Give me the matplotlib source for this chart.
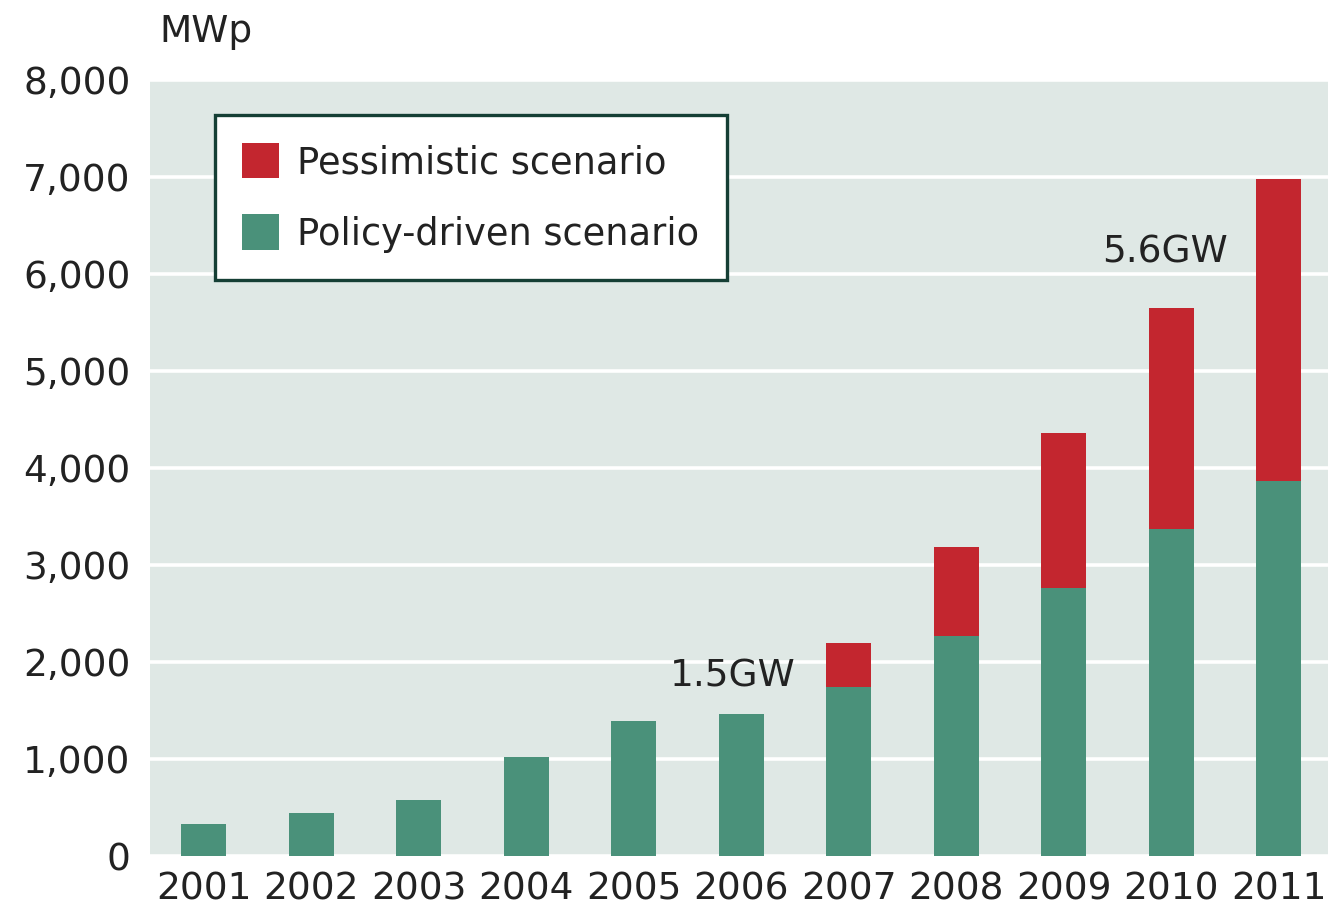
import matplotlib
matplotlib.use("Agg")
import matplotlib.pyplot as plt
from matplotlib.patches import Patch

# --- data (MWp) ---
years = ["2001", "2002", "2003", "2004", "2005", "2006",
         "2007", "2008", "2009", "2010", "2011"]
policy = [330, 440, 580, 1020, 1390, 1460, 1740, 2270, 2760, 3370, 3870]
total = [330, 440, 580, 1020, 1390, 1460, 2195, 3190, 4360, 5650, 6980]
pessimistic = [t - p for t, p in zip(total, policy)]
yticks = [0, 1000, 2000, 3000, 4000, 5000, 6000, 7000, 8000]

red = "#c3262f"
green = "#4a917a"
bg = "#dfe8e5"

plt.rcParams['font.family'] = ['DejaVu Sans']

fig = plt.figure(figsize=(13.28, 9.10), dpi=100)
ax = fig.add_axes([0.113, 0.0593, 0.887, 0.8527])
ax.set_facecolor(bg)

x = list(range(len(years)))
ax.bar(x, policy, width=0.42, color=green, zorder=3)
ax.bar(x, pessimistic, width=0.42, bottom=policy, color=red, zorder=3)

ax.set_xlim(-0.5, 10.46)
ax.set_ylim(0, 8000)
ax.set_yticks(yticks)
ax.set_yticklabels([f"{v:,}" for v in yticks])
ax.set_xticks(x)
ax.set_xticklabels(years)
ax.tick_params(axis='both', length=0, labelsize=27, colors="#222222")
ax.tick_params(axis='y', pad=14)
ax.tick_params(axis='x', pad=11)
ax.grid(axis='y', color='white', linewidth=2.6, zorder=1)
for s in ax.spines.values():
    s.set_visible(False)

fig.text(0.12, 0.965, "MWp", fontsize=27, color="#222222", va='center', ha='left')

ax.text(4.92, 1850, "1.5GW", fontsize=27, color="#222222", ha='center', va='center', zorder=4)
ax.text(8.94, 6220, "5.6GW", fontsize=27, color="#222222", ha='center', va='center', zorder=4)

handles = [Patch(facecolor=red, edgecolor='none', label="Pessimistic scenario"),
           Patch(facecolor=green, edgecolor='none', label="Policy-driven scenario")]
leg = ax.legend(handles=handles, loc='upper left', bbox_to_anchor=(0.055, 0.955),
                fontsize=26.5, frameon=True, fancybox=False, framealpha=1,
                handlelength=0.98, handleheight=1.12, handletextpad=0.5,
                borderpad=0.75, labelspacing=0.9, borderaxespad=0)
leg.get_frame().set_edgecolor("#153f35")
leg.get_frame().set_linewidth(2.4)
leg.get_frame().set_facecolor("white")
leg.set_zorder(5)
for t in leg.get_texts():
    t.set_color("#222222")

fig.savefig("out.png", dpi=100)
